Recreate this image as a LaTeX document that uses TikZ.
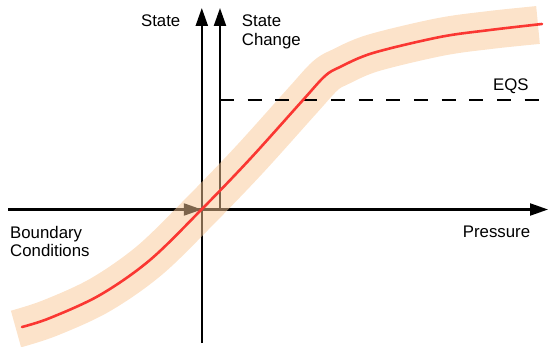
\documentclass[tikz,border=0pt]{standalone}
\usepackage{fontspec}
\setmainfont{Liberation Sans}
\usetikzlibrary{arrows.meta}
\definecolor{bandc}{RGB}{250,200,150}
\definecolor{curvec}{RGB}{250,55,50}
\begin{document}
\begin{tikzpicture}[x=1pt,y=-1pt,
  axis/.style={line width=2.2pt, draw=black},
  tipped/.style={-{Triangle[length=18pt,width=12pt]}},
  eqs/.style={line width=2.2pt, draw=black, dash pattern=on 14pt off 13.7pt},
  band/.style={line width=38pt, draw=bandc, draw opacity=0.5, line join=round},
  curve/.style={line width=2.6pt, draw=curvec, line cap=round, line join=round},
  lbl/.style={inner sep=0pt, font=\fontsize{16.8}{20}\selectfont, text=black}]
\useasboundingbox (0,0) rectangle (548,347);
% axes
\coordinate (O) at (201.8,209.5);
\coordinate (hL) at (8,209.5);
\coordinate (hR) at (548,209.5);
\coordinate (v1B) at (201.8,343);
\coordinate (v1T) at (201.8,8);
\coordinate (v2B) at (220,211);
\coordinate (v2T) at (220,8);
\coordinate (eqL) at (220,100);
\coordinate (eqR) at (548,100);
\coordinate (bc) at (172,209.5);
\draw[axis, tipped] (hL) -- (hR);
\draw[axis, tipped] (v1B) -- (v1T);
\draw[axis, tipped] (v2B) -- (v2T);
\draw[axis, tipped] (bc) -- (O);
% band
\draw[band] plot[smooth, tension=0.55] coordinates {(16,329) (50,318) (100,295) (150,260) (202,209) (250,159) (303,100) (325,76) (340,67) (373,53) (440,37) (490,30) (538,25)};
% EQS dashed line
\draw[eqs] (eqL) -- (eqR);
% red curve
\draw[curve] plot[smooth, tension=0.55] coordinates {(22,327) (50,318) (100,295) (150,260) (202,209) (250,159) (303,100) (325,76) (340,67) (373,53) (440,37) (490,30) (542,24)};
% labels
\node[lbl, anchor=base east] (lstate) at (180.5,26.7) {State};
\node[lbl, anchor=north west, align=left] (lchange) at (241.7,14.4) {State\\[-0.6pt]Change};
\node[lbl, anchor=base west] (leqs) at (493,91) {EQS};
\node[lbl, anchor=north west, align=left] (lbound) at (10,226.3) {Boundary\\[-2pt]Conditions};
\node[lbl, anchor=base west] (lpress) at (462.7,237.8) {Pressure};
\end{tikzpicture}
\end{document}
